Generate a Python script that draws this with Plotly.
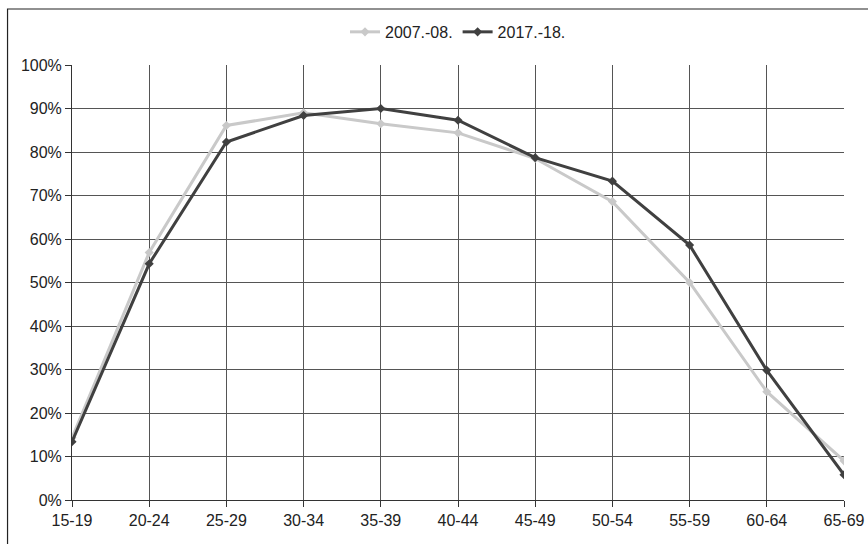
import plotly.graph_objects as go

age_groups = ["15-19", "20-24", "25-29", "30-34", "35-39", "40-44",
              "45-49", "50-54", "55-59", "60-64", "65-69"]
series_2007 = [0.143, 0.569, 0.861, 0.890, 0.865, 0.844,
               0.785, 0.686, 0.500, 0.249, 0.090]
series_2017 = [0.134, 0.543, 0.823, 0.884, 0.900, 0.873,
               0.787, 0.733, 0.586, 0.298, 0.058]
series_names = ["2007.-08.", "2017.-18."]
y_ticks = [i / 10 for i in range(11)]
y_labels = [f"{i*10}%" for i in range(11)]

font_family = "Liberation Sans, Arial, sans-serif"

fig = go.Figure()
fig.add_trace(go.Scatter(
    x=age_groups, y=series_2007, name=series_names[0], mode="lines+markers",
    line=dict(color="#c9c9c9", width=3),
    marker=dict(symbol="diamond", size=7, color="#c9c9c9"),
))
fig.add_trace(go.Scatter(
    x=age_groups, y=series_2017, name=series_names[1], mode="lines+markers",
    line=dict(color="#404040", width=3),
    marker=dict(symbol="diamond", size=7, color="#404040"),
))

fig.update_layout(
    width=868, height=544,
    margin=dict(l=72, r=24, t=65, b=44),
    paper_bgcolor="white", plot_bgcolor="white",
    font=dict(family=font_family, size=16, color="#222222"),
    showlegend=True,
    legend=dict(orientation="h", x=0.5, xanchor="center", y=1.076, yanchor="middle",
                font=dict(size=16, color="#222222"), itemwidth=30,
                bgcolor="rgba(0,0,0,0)"),
    xaxis=dict(
        type="category", range=[0, 10], showgrid=True, gridcolor="#555555", gridwidth=1,
        showline=True, linecolor="#333333", linewidth=1,
        ticks="outside", ticklen=6, tickcolor="#333333", automargin=False,
        tickfont=dict(size=16, color="#222222"), zeroline=False, fixedrange=True,
    ),
    yaxis=dict(
        range=[0, 1], tickvals=y_ticks, ticktext=y_labels,
        showgrid=True, gridcolor="#555555", gridwidth=1,
        showline=True, linecolor="#333333", linewidth=1,
        ticks="outside", ticklen=6, tickcolor="#333333", automargin=False,
        tickfont=dict(size=16, color="#222222"), zeroline=False, fixedrange=True,
    ),
    shapes=[dict(type="rect", xref="paper", yref="paper",
                 x0=-0.0835, x1=1.2, y0=-0.3, y1=1.1287,
                 line=dict(color="#222222", width=1.2), fillcolor="rgba(0,0,0,0)",
                 layer="below")],
)

fig.write_html("out.html", config={"displayModeBar": False},
               post_script="document.body.style.margin='0px';document.body.style.padding='0px';")
